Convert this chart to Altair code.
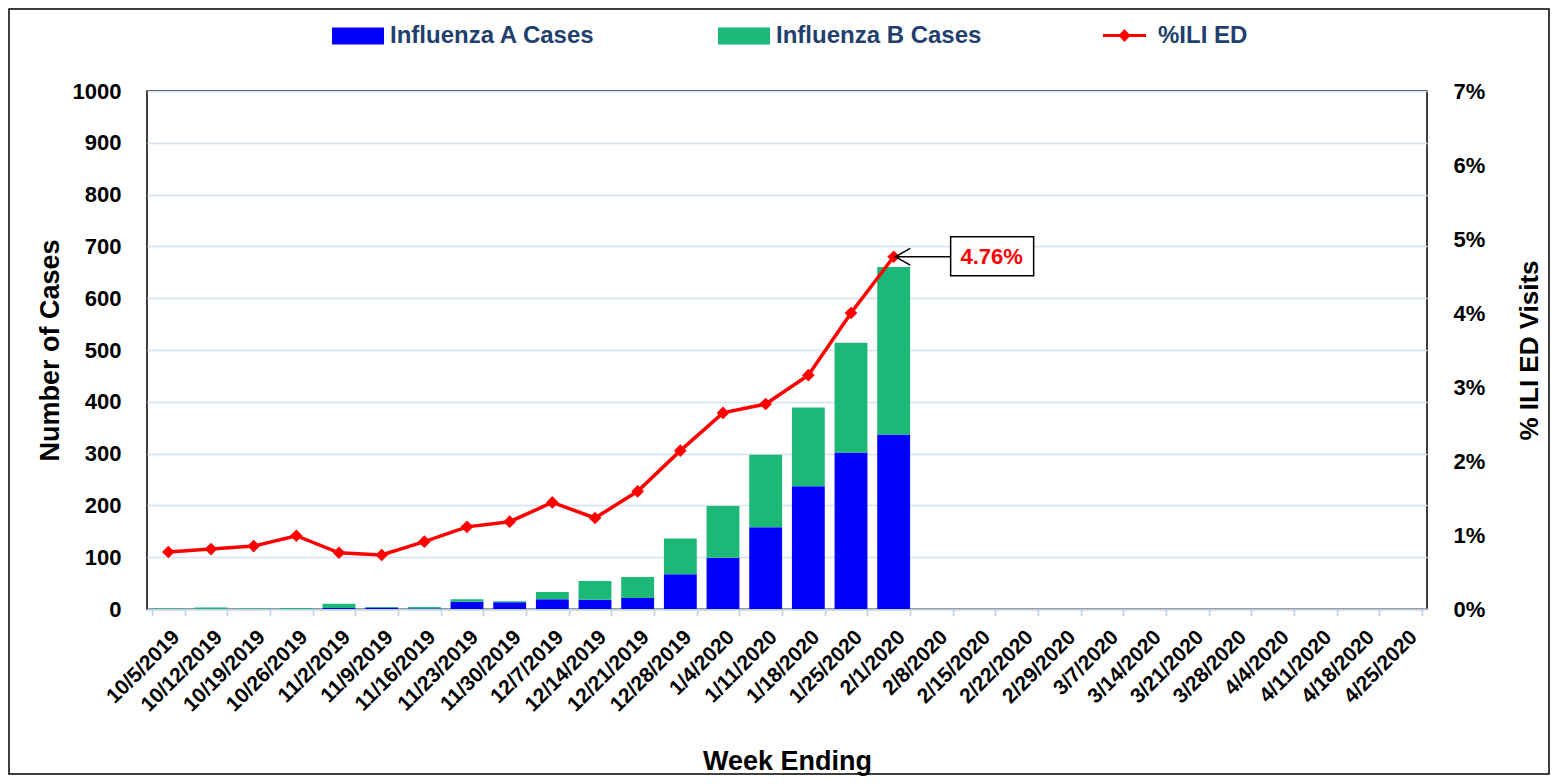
import altair as alt
import pandas as pd

# ---------------- data ----------------
weeks = ["10/5/2019", "10/12/2019", "10/19/2019", "10/26/2019", "11/2/2019",
         "11/9/2019", "11/16/2019", "11/23/2019", "11/30/2019", "12/7/2019",
         "12/14/2019", "12/21/2019", "12/28/2019", "1/4/2020", "1/11/2020",
         "1/18/2020", "1/25/2020", "2/1/2020", "2/8/2020", "2/15/2020",
         "2/22/2020", "2/29/2020", "3/7/2020", "3/14/2020", "3/21/2020",
         "3/28/2020", "4/4/2020", "4/11/2020", "4/18/2020", "4/25/2020"]
flu_a = [0, 0, 0, 0, 2, 3, 1, 14, 13, 19, 18, 21, 67, 99, 158, 237, 302, 337]
flu_b = [1, 3, 1, 2, 8, 1, 3, 5, 2, 14, 36, 41, 69, 100, 140, 152, 212, 323]
ili_pct = [0.77, 0.81, 0.85, 0.99, 0.76, 0.73, 0.91, 1.11, 1.18, 1.44,
           1.23, 1.59, 2.14, 2.65, 2.77, 3.16, 4.00, 4.76]
series_names = ["Influenza A Cases", "Influenza B Cases"]
ili_name = "%ILI ED"
y_ticks = [0, 100, 200, 300, 400, 500, 600, 700, 800, 900, 1000]
pct_ticks = [0, 1, 2, 3, 4, 5, 6, 7]

rows = []
for i, (a, b) in enumerate(zip(flu_a, flu_b)):
    rows.append({"week": weeks[i], "series": series_names[0], "cases": a, "ord": 0})
    rows.append({"week": weeks[i], "series": series_names[1], "cases": b, "ord": 1})
bars_df = pd.DataFrame(rows)
ili_df = pd.DataFrame({"week": weeks[:len(ili_pct)], "ili": ili_pct, "label": ili_name})

FONT = "Liberation Sans"
W, H = 1280, 518

x_enc = alt.X("week:N", sort=weeks,
              scale=alt.Scale(domain=weeks, paddingInner=0.23, paddingOuter=0.115),
              axis=alt.Axis(title="Week Ending", labelAngle=-45, labelFontSize=21,
                            labelFont=FONT, labelFontWeight="bold", labelColor="black",
                            labelPadding=10, tickBand="extent", tickColor="#BFD0E6",
                            tickSize=7, tickWidth=1.5, domainColor="#BFCCDD",
                            domainWidth=2, titleFontSize=27, titleFont=FONT,
                            titleFontWeight="bold", titleColor="black", titlePadding=33,
                            labelOverlap=False, grid=False))

bars = alt.Chart(bars_df).mark_bar().encode(
    x=x_enc,
    y=alt.Y("cases:Q", stack="zero", scale=alt.Scale(domain=[0, 1000], nice=False),
            axis=alt.Axis(values=y_ticks, format="d", title="Number of Cases", grid=True,
                          gridColor="#D5E1F0", gridWidth=1.5, domain=False, ticks=False,
                          labelFontSize=22, labelFont=FONT, labelFontWeight="bold",
                          labelColor="black", labelPadding=26, titleFontSize=27,
                          titleFont=FONT, titleFontWeight="bold", titleColor="black",
                          titlePadding=8)),
    color=alt.Color("series:N",
                    scale=alt.Scale(domain=series_names, range=["#0000FF", "#1BB878"]),
                    legend=alt.Legend(title=None, orient="none", legendX=185, legendY=-81,
                                      direction="horizontal",
                                      symbolType="M-1,-0.33H1V0.33H-1Z", symbolSize=2704,
                                      symbolStrokeWidth=0, labelFontSize=24,
                                      labelFont=FONT, labelFontWeight="bold",
                                      labelColor="#22406E", labelLimit=400,
                                      labelOffset=6, columnPadding=122)),
    order=alt.Order("ord:Q"),
)

y_pct = alt.Y("ili:Q", scale=alt.Scale(domain=[0, 7], nice=False),
              axis=alt.Axis(values=pct_ticks, orient="right", labelExpr="datum.value + '%'",
                            title="% ILI ED Visits", titleAngle=270, grid=False,
                            domain=False, ticks=False,
                            labelFontSize=22, labelFont=FONT, labelFontWeight="bold",
                            labelColor="black", labelPadding=26, titleFontSize=26,
                            titleFont=FONT, titleFontWeight="bold", titleColor="black",
                            titlePadding=58))

line = alt.Chart(ili_df).mark_line(color="#FF0000", strokeWidth=3.5).encode(
    x=alt.X("week:N", sort=weeks), y=y_pct)

points = alt.Chart(ili_df).mark_point(filled=True, opacity=1, size=160,
                                      shape="diamond").encode(
    x=alt.X("week:N", sort=weeks), y=y_pct,
    fill=alt.Fill("label:N", scale=alt.Scale(domain=[ili_name], range=["#FF0000"]),
                  legend=alt.Legend(title=None, orient="none", legendX=956, legendY=-77,
                                    symbolType="M-1,-0.07H1V0.07H-1Z M0,-0.3L0.28,0L0,0.3L-0.28,0Z",
                                    symbolSize=1849, symbolStrokeWidth=0,
                                    labelFontSize=24, labelFont=FONT,
                                    labelFontWeight="bold", labelColor="#22406E",
                                    labelLimit=400, labelOffset=12)),
)

last = ili_df.iloc[[-1]].copy()
last["txt"] = last["ili"].map(lambda v: f"{v:.2f}%")

box = alt.Chart(last).mark_point(shape="M1.373,-0.482H3.373V0.458H1.373Z", size=6889,
                                 filled=True, fill="white", stroke="black",
                                 strokeWidth=1.5, opacity=1).encode(
    x=alt.X("week:N", sort=weeks), y=y_pct)

arrow = alt.Chart(last).mark_point(shape="M1.373,0L0.04,0M0.4,-0.2L0.04,0L0.4,0.2",
                                   size=6889, filled=False, stroke="black",
                                   strokeWidth=1.5, opacity=1).encode(
    x=alt.X("week:N", sort=weeks), y=y_pct)

label = alt.Chart(last).mark_text(dx=98, dy=0, align="center", baseline="middle",
                                  font=FONT, fontWeight="bold", fontSize=22,
                                  color="#FF0000").encode(
    x=alt.X("week:N", sort=weeks), y=y_pct, text="txt:N")

frame = alt.Chart(alt.Data(values=[{"k": 1}])).mark_rect(
    fill=None, stroke="black", strokeWidth=1.5).encode(
    x=alt.value(-138), x2=alt.value(W + 122), y=alt.value(-82), y2=alt.value(H + 165))

right_layer = alt.layer(line, points, box, arrow, label)

chart = alt.layer(bars, right_layer, frame).resolve_scale(
    y="independent", color="independent", fill="independent"
).properties(
    width=W, height=H,
    autosize=alt.AutoSizeParams(type="none"),
    padding={"left": 139, "top": 83, "right": 124, "bottom": 167},
    background="white",
).configure_view(stroke="black", strokeWidth=1.5)

chart.save("out.html", embed_options={"renderer": "svg", "actions": False})
